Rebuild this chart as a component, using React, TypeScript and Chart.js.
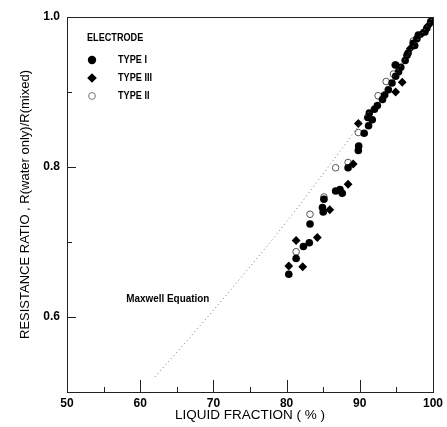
import React, { useEffect, useRef } from "react";
import { Chart, registerables } from "chart.js";

Chart.register(...registerables);

// ---- Data ----
const xTickLabels = [50, 60, 70, 80, 90, 100];
const yTickLabels = [0.6, 0.8, 1.0];

// TYPE I electrode (filled circles): [liquid fraction %, resistance ratio]
const typeI: [number, number][] = [
  [80.3, 0.657], [81.3, 0.678], [82.3, 0.694], [83.1, 0.699], [83.2, 0.724],
  [85.0, 0.740], [84.9, 0.746], [85.1, 0.757], [86.7, 0.768], [87.3, 0.770],
  [87.6, 0.765], [88.4, 0.799], [89.8, 0.822], [89.85, 0.828], [90.6, 0.845],
  [91.2, 0.855], [91.1, 0.866], [91.3, 0.872], [91.7, 0.863], [92.0, 0.877],
  [92.4, 0.882], [93.1, 0.890], [93.4, 0.896], [93.9, 0.903], [94.4, 0.912],
  [94.9, 0.921], [95.3, 0.927], [94.9, 0.936], [95.6, 0.933], [96.2, 0.942],
  [96.45, 0.949], [96.6, 0.952], [97.3, 0.965], [97.5, 0.962], [97.8, 0.971],
  [98.0, 0.976], [98.9, 0.980], [99.15, 0.985], [99.7, 0.994], [100.0, 0.998],
];

// TYPE III electrode (filled diamonds)
const typeIII: [number, number][] = [
  [80.3, 0.668], [82.2, 0.667], [81.3, 0.702], [84.2, 0.706], [85.9, 0.743],
  [88.4, 0.777], [89.1, 0.804], [89.8, 0.858], [94.9, 0.900], [95.8, 0.913],
  [96.9, 0.958], [98.5, 0.978], [99.4, 0.989],
];

// TYPE II electrode (open circles)
const typeII: [number, number][] = [
  [81.3, 0.687], [83.2, 0.737], [85.1, 0.760], [86.7, 0.799], [88.4, 0.806],
  [89.8, 0.846], [92.5, 0.895], [93.6, 0.914], [94.6, 0.924], [94.8, 0.936],
  [97.3, 0.968],
];

// Maxwell equation curve (dotted)
const maxwellX = [62, 65, 70, 75, 80, 85, 90, 95, 100];
const maxwellY = [0.52, 0.553, 0.609, 0.667, 0.727, 0.791, 0.857, 0.927, 1.0];

const legendTitle = "ELECTRODE";
const legendLabels = ["TYPE I", "TYPE III", "TYPE II"];
const curveLabel = "Maxwell Equation";
const xTitle = "LIQUID FRACTION ( % )";
const yTitle = "RESISTANCE RATIO , R(water only)/R(mixed)";

const FONT = "'Liberation Sans', Arial, Helvetica, sans-serif";

const toPts = (arr: [number, number][]) => arr.map(([x, y]) => ({ x, y }));

function narrowText(ctx: CanvasRenderingContext2D, text: string, x: number, y: number, sx: number) {
  ctx.save();
  ctx.translate(x, y);
  ctx.scale(sx, 1);
  ctx.fillText(text, 0, 0);
  ctx.restore();
}

const decorPlugin = {
  id: "decor",
  afterDraw(chart: any) {
    const { ctx, chartArea: ca, scales } = chart;
    const xs = scales.x;
    const ys = scales.y;
    ctx.save();
    // frame
    ctx.strokeStyle = "#222";
    ctx.lineWidth = 1;
    ctx.strokeRect(Math.round(ca.left) + 0.5, Math.round(ca.top) + 0.5, Math.round(ca.right - ca.left), Math.round(ca.bottom - ca.top));
    // inward ticks x
    ctx.beginPath();
    for (let v = 55; v < 100; v += 5) {
      const px = Math.round(xs.getPixelForValue(v)) + 0.5;
      const len = xTickLabels.includes(v) ? 12 : 5;
      ctx.moveTo(px, ca.bottom);
      ctx.lineTo(px, ca.bottom - len);
    }
    // inward ticks y
    for (let i = 6; i < 10; i++) {
      const v = i / 10;
      const py = Math.round(ys.getPixelForValue(v)) + 0.5;
      const len = yTickLabels.some((t) => Math.abs(t - v) < 1e-6) ? 9 : 5;
      ctx.moveTo(ca.left, py);
      ctx.lineTo(ca.left + len, py);
    }
    ctx.stroke();

    // legend
    ctx.fillStyle = "#000";
    ctx.textBaseline = "middle";
    ctx.textAlign = "left";
    ctx.font = `bold 11px ${FONT}`;
    narrowText(ctx, legendTitle, 87, 38, 0.83);
    const mx = 92;
    const rows = [60, 78, 96];
    // filled circle
    ctx.beginPath();
    ctx.arc(mx, rows[0], 4.2, 0, Math.PI * 2);
    ctx.fill();
    // diamond
    ctx.beginPath();
    ctx.moveTo(mx, rows[1] - 4.8);
    ctx.lineTo(mx + 4.8, rows[1]);
    ctx.lineTo(mx, rows[1] + 4.8);
    ctx.lineTo(mx - 4.8, rows[1]);
    ctx.closePath();
    ctx.fill();
    // open circle
    ctx.beginPath();
    ctx.strokeStyle = "#777";
    ctx.arc(mx, rows[2], 3.4, 0, Math.PI * 2);
    ctx.stroke();
    ctx.font = `bold 11px ${FONT}`;
    legendLabels.forEach((t, i) => narrowText(ctx, t, 118, rows[i], 0.83));

    // curve label
    ctx.font = `bold 11px ${FONT}`;
    narrowText(ctx, curveLabel, xs.getPixelForValue(58.1), ys.getPixelForValue(0.624), 0.9);
    ctx.restore();
  },
};

export default function App() {
  const ref = useRef<HTMLCanvasElement>(null);
  useEffect(() => {
    const canvas = ref.current!;
    const chart = new Chart(canvas, {
      type: "scatter",
      data: {
        datasets: [
          {
            type: "line",
            label: curveLabel,
            data: maxwellX.map((x, i) => ({ x, y: maxwellY[i] })),
            borderColor: "#777",
            borderWidth: 1,
            borderDash: [1, 3],
            pointRadius: 0,
            cubicInterpolationMode: "monotone",
            fill: false,
          } as any,
          {
            label: legendLabels[0],
            data: toPts(typeI),
            pointStyle: "circle",
            pointRadius: 3.8,
            backgroundColor: "#000",
            borderColor: "#000",
            borderWidth: 0,
          },
          {
            label: legendLabels[1],
            data: toPts(typeIII),
            pointStyle: "rectRot",
            pointRadius: 4.4,
            backgroundColor: "#000",
            borderColor: "#000",
            borderWidth: 0,
          },
          {
            label: legendLabels[2],
            data: toPts(typeII),
            pointStyle: "circle",
            pointRadius: 3.3,
            backgroundColor: "#fff",
            borderColor: "#555",
            borderWidth: 1,
          },
        ],
      },
      options: {
        animation: false,
        responsive: true,
        maintainAspectRatio: false,
        layout: { padding: { top: 17, right: 9, bottom: 0, left: 0 } },
        plugins: { legend: { display: false }, tooltip: { enabled: false } },
        scales: {
          x: {
            type: "linear",
            position: "bottom",
            min: 50,
            max: 100,
            grid: { display: false, drawTicks: false },
            border: { display: false },
            ticks: {
              stepSize: 5,
              autoSkip: false,
              maxRotation: 0,
              padding: 4,
              color: "#000",
              font: { family: FONT, size: 12, weight: "bold" },
              callback: (v: any) => (xTickLabels.includes(Number(v)) ? String(v) : ""),
            },
            title: {
              display: true,
              text: xTitle,
              color: "#000",
              font: { family: FONT, size: 13.5 },
              padding: { top: 0, bottom: 4 },
            },
            afterFit: (s: any) => {
              s.height = 35;
            },
          },
          y: {
            type: "linear",
            min: 0.5,
            max: 1.0,
            grid: { display: false, drawTicks: false },
            border: { display: false },
            ticks: {
              stepSize: 0.1,
              autoSkip: false,
              padding: 7,
              color: "#000",
              font: { family: FONT, size: 12, weight: "bold" },
              callback: (v: any) =>
                yTickLabels.some((t) => Math.abs(t - Number(v)) < 1e-6) ? Number(v).toFixed(1) : "",
            },
            title: {
              display: true,
              text: yTitle,
              color: "#000",
              font: { family: FONT, size: 13 },
              padding: { top: 18, bottom: 0 },
            },
            afterFit: (s: any) => {
              s.width = 67;
            },
          },
        },
      },
      plugins: [decorPlugin],
    });
    return () => chart.destroy();
  }, []);
  return (
    <div style={{ position: "fixed", left: 0, top: 0, width: 447, height: 427, background: "#fff" }}>
      <canvas ref={ref} />
    </div>
  );
}
